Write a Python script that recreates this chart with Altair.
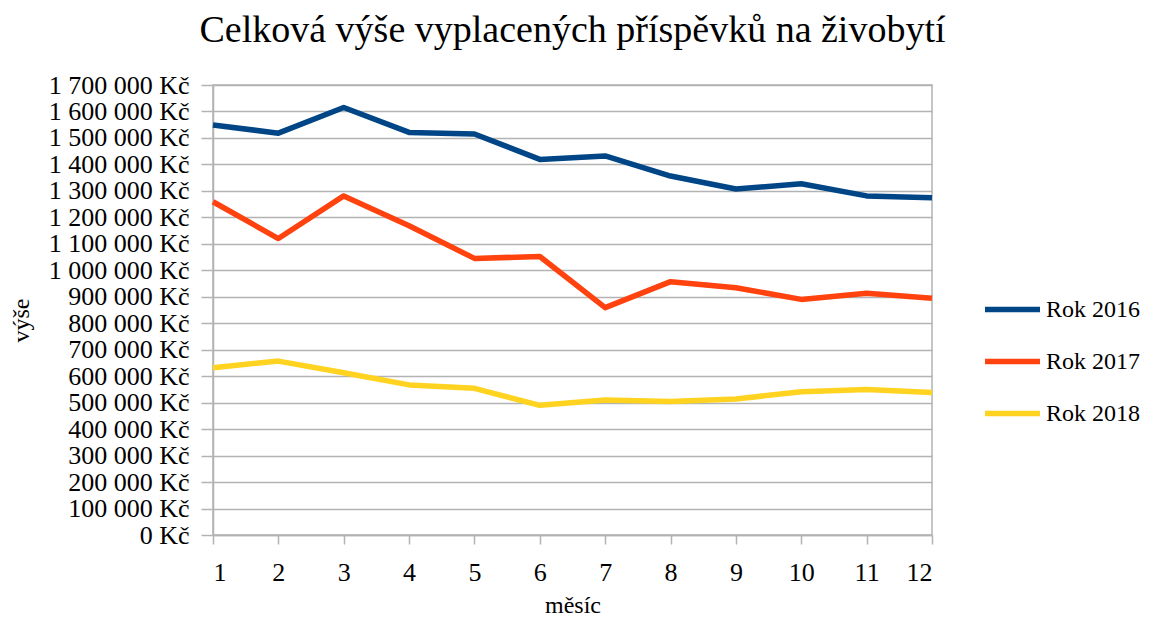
import altair as alt
import pandas as pd

months = list(range(1, 13))
series_names = ["Rok 2016", "Rok 2017", "Rok 2018"]
rok_2016 = [1549000, 1518000, 1615000, 1521000, 1515000, 1419000, 1432000, 1356000, 1307000, 1327000, 1281000, 1274000]
rok_2017 = [1259000, 1120000, 1281000, 1168000, 1045000, 1052000, 859000, 957000, 934000, 890000, 913000, 894000]
rok_2018 = [632000, 657000, 613000, 567000, 554000, 490000, 510000, 504000, 514000, 541000, 550000, 538000]
colors = ["#004586", "#ff420e", "#ffd320"]
y_ticks = list(range(0, 1700001, 100000))

rows = []
for name, vals in zip(series_names, [rok_2016, rok_2017, rok_2018]):
    for m, v in zip(months, vals):
        rows.append({"měsíc": m, "výše": v, "řada": name})
df = pd.DataFrame(rows)

FONT = "Liberation Serif"
GRID = "#b3b3b3"

chart = alt.Chart(df).mark_line(strokeWidth=5.5, strokeJoin="round").encode(
    x=alt.X("měsíc:Q",
            scale=alt.Scale(domain=[1, 12], nice=False, zero=False),
            axis=alt.Axis(values=months, format="d", grid=False, tickSize=9,
                          labelPadding=15, labelFontSize=26, labelFont=FONT,
                          labelColor="#000", title="měsíc", titleFont=FONT,
                          titleFontSize=24, titleFontWeight="normal", titleColor="#000",
                          titleX=359.5, titleY=77, titleBaseline="alphabetic",
                          domainColor=GRID, tickColor=GRID, domainWidth=1.5, tickWidth=1.5)),
    y=alt.Y("výše:Q",
            scale=alt.Scale(domain=[0, 1700000], nice=False),
            axis=alt.Axis(values=y_ticks, grid=True, gridColor=GRID, gridWidth=1.5,
                          tickSize=12, labelPadding=12, labelFontSize=26, labelFont=FONT,
                          labelColor="#000",
                          labelExpr="replace(replace(format(datum.value, ','), ',', ' '), ',', ' ') + ' Kč'",
                          title="výše", titleFont=FONT, titleFontSize=24,
                          titleFontWeight="normal", titleColor="#000",
                          titleX=-192, titleY=235, titleAngle=270, titleBaseline="middle",
                          domainColor=GRID, tickColor=GRID, domainWidth=1.5, tickWidth=1.5)),
    color=alt.Color("řada:N",
                    scale=alt.Scale(domain=series_names, range=colors),
                    legend=alt.Legend(title=None, orient="none", legendX=769, legendY=194,
                                      symbolType="stroke", symbolSize=3025,
                                      symbolStrokeWidth=5.5, labelFont=FONT,
                                      labelFontSize=24, labelColor="#000",
                                      labelOffset=3, rowPadding=9, padding=0)),
).properties(
    width=719,
    height=450,
    title=alt.TitleParams("Celková výše vyplacených příspěvků na živobytí",
                          font=FONT, fontSize=38, fontWeight="normal", color="#000",
                          offset=22, anchor="middle", frame="group"),
    autosize=alt.AutoSizeParams(type="none"),
    padding={"left": 205, "top": 77, "right": 214, "bottom": 82},
).configure_view(stroke=GRID, strokeWidth=1.5)

chart.save("out.html", embed_options={"renderer": "svg", "actions": False})
